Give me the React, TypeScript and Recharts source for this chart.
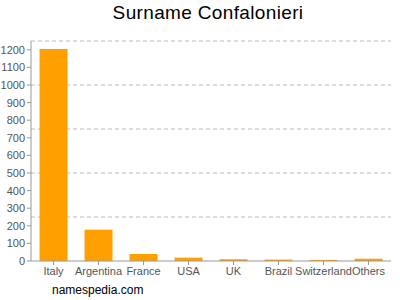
import React from 'react';
import { BarChart, Bar, XAxis, YAxis, CartesianGrid } from 'recharts';

const countries = ['Italy', 'Argentina', 'France', 'USA', 'UK', 'Brazil', 'Switzerland', 'Others'];
const counts = [1205, 178, 40, 19, 10, 8, 6, 13];
const yTicks = [0, 100, 200, 300, 400, 500, 600, 700, 800, 900, 1000, 1100, 1200];
const gridLevels = [250, 500, 750, 1000, 1250];

const data = countries.map((name, i) => ({ name, value: counts[i] }));

const font = 'Liberation Sans, Arial, sans-serif';

export default function App() {
  return (
    <div style={{ position: 'absolute', left: 0, top: 0, width: 400, height: 300, background: '#fff', fontFamily: font }}>
      <div style={{ position: 'absolute', left: 8, top: 2, width: 400, textAlign: 'center', fontSize: 19, letterSpacing: 0.35, color: '#000' }}>
        Surname Confalonieri
      </div>
      <BarChart
        width={400}
        height={300}
        data={data}
        margin={{ top: 41, right: 9, left: 0, bottom: 0 }}
        barCategoryGap="19%"
      >
        <CartesianGrid
          vertical={false}
          horizontalValues={gridLevels}
          stroke="#bbb"
          strokeDasharray="4 3"
        />
        <XAxis
          dataKey="name"
          height={39}
          interval={0}
          tick={{ fontSize: 11, fill: '#555', fontFamily: font }}
          tickLine={{ stroke: '#999' }}
          tickSize={4}
          axisLine={{ stroke: '#999' }}
        />
        <YAxis
          width={31}
          domain={[0, 1250]}
          ticks={yTicks}
          interval={0}
          tick={{ fontSize: 11, fill: '#555', fontFamily: font }}
          tickLine={{ stroke: '#999' }}
          tickSize={4}
          axisLine={{ stroke: '#999' }}
        />
        <Bar dataKey="value" fill="#FFA000" isAnimationActive={false} />
      </BarChart>
      <div style={{ position: 'absolute', left: 52, top: 283, fontSize: 12, color: '#000' }}>namespedia.com</div>
    </div>
  );
}
